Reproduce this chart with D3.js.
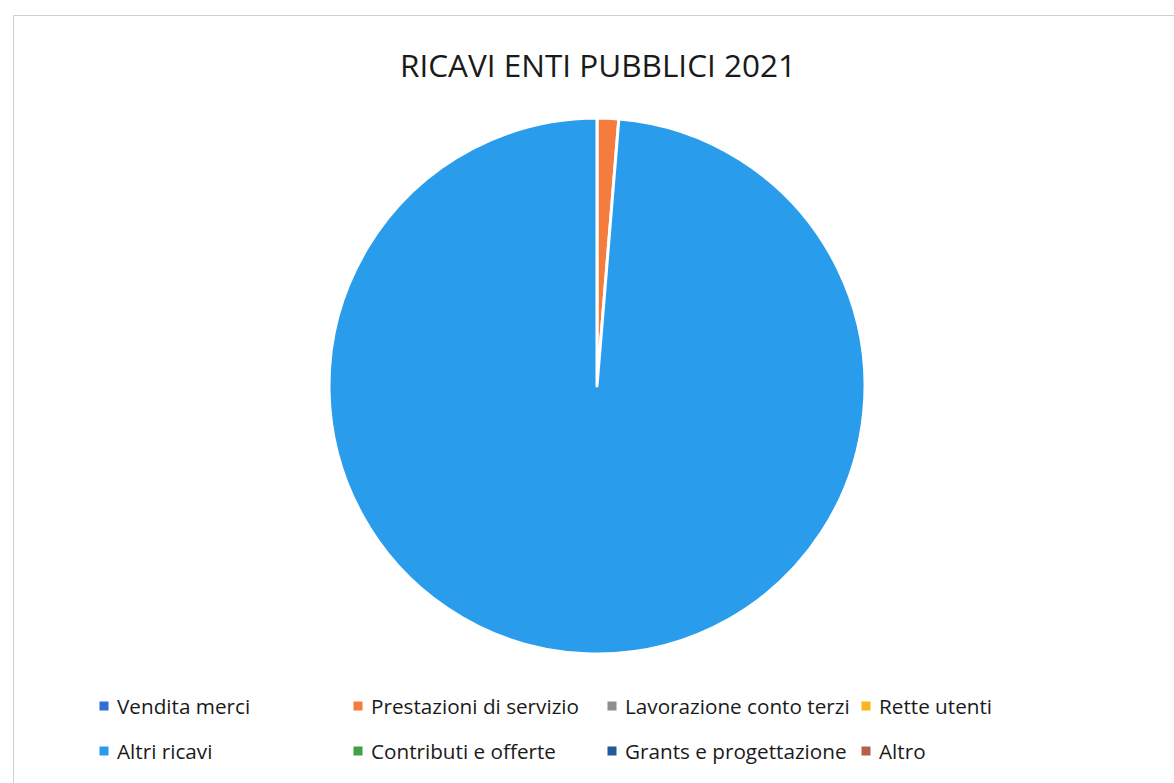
<!DOCTYPE html>
<html>
<head>
<meta charset="utf-8">
<script src="https://cdn.jsdelivr.net/npm/d3@7"></script>
<style>
  body { margin: 0; background: #fff; }
  text { font-family: "Open Sans", "Noto Sans", sans-serif; fill: #1a1a1a; }
</style>
</head>
<body>
<script>
var svgWidth = 1174;
var svgHeight = 783;

// chart data
var categories = ["Vendita merci", "Prestazioni di servizio", "Lavorazione conto terzi", "Rette utenti",
                  "Altri ricavi", "Contributi e offerte", "Grants e progettazione", "Altro"];
var values = [0, 1.3, 0, 0, 98.7, 0, 0, 0];
var colors = ["#2f6fd6", "#f47d3e", "#8e8e8e", "#fbb51c", "#2a9cec", "#3fa345", "#1f5a9a", "#b8614a"];

var svg = d3.select("body").append("svg").attr("width", svgWidth).attr("height", svgHeight);

// chart frame
svg.append("rect")
    .attr("x", 13.5).attr("y", 15.5)
    .attr("width", svgWidth).attr("height", svgHeight)
    .attr("fill", "none")
    .attr("stroke", "#cfcfcf")
    .attr("stroke-width", 1);

// title
svg.append("text")
    .attr("x", 598).attr("y", 77)
    .attr("text-anchor", "middle")
    .attr("font-size", 31.5)
    .text("RICAVI ENTI PUBBLICI 2021");

// pie
var cx = 597, cy = 386, radius = 268;

var pie = d3.pie().sort(null).value(function(d) { return d; });
var arc = d3.arc().innerRadius(0).outerRadius(radius);

svg.append("g")
    .attr("transform", "translate(" + cx + "," + cy + ")")
    .selectAll("path")
    .data(pie(values).map(function(d, i) { d.color = colors[i]; return d; })
        .filter(function(d) { return d.data > 0; }))
    .join("path")
    .attr("d", arc)
    .attr("fill", function(d) { return d.color; })
    .attr("stroke", "#fff")
    .attr("stroke-width", 3)
    .attr("stroke-linejoin", "round");

// legend
var colX = d3.scaleLinear().domain([0, 3]).range([104, 866]);
var rowY = d3.scaleLinear().domain([0, 1]).range([706, 751]);

var legend = svg.append("g").selectAll("g")
    .data(categories)
    .join("g")
    .attr("transform", function(d, i) {
        return "translate(" + colX(i % 4) + "," + rowY(Math.floor(i / 4)) + ")";
    });

legend.append("rect")
    .attr("x", -4.5).attr("y", -4.5)
    .attr("width", 9).attr("height", 9)
    .attr("fill", function(d, i) { return colors[i]; });

legend.append("text")
    .attr("x", 13)
    .attr("y", 7.5)
    .attr("font-size", 20.7)
    .text(function(d) { return d; });
</script>
</body>
</html>
